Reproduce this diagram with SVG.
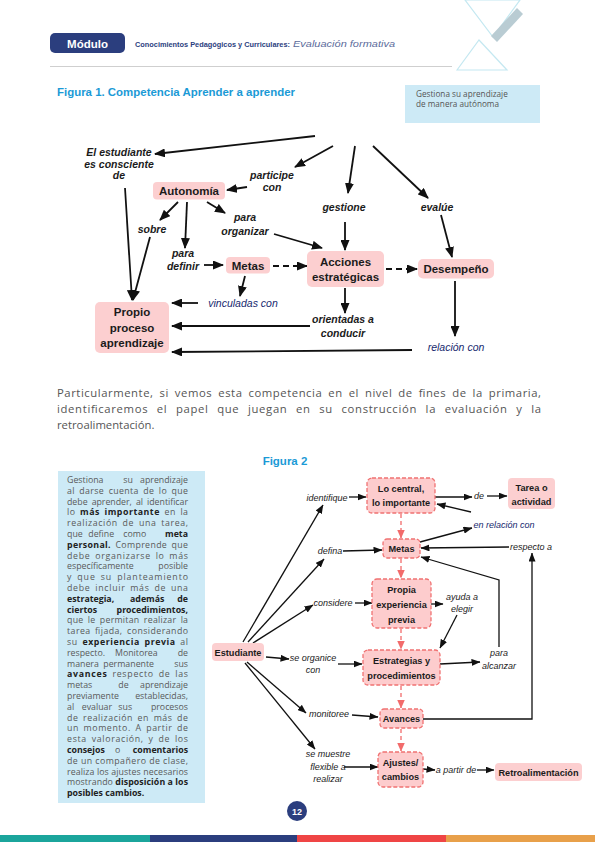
<svg xmlns="http://www.w3.org/2000/svg" width="595" height="842" viewBox="0 0 595 842">
<style>
.t1{font-family:"Liberation Sans",Arial,sans-serif;font-weight:bold;font-size:11.5px;fill:#1b1b1b;text-anchor:middle}
.l1{font-family:"Liberation Sans",Arial,sans-serif;font-weight:bold;font-style:italic;font-size:10.5px;fill:#1b1b1b;text-anchor:middle}
.l1b{font-family:"Liberation Sans",Arial,sans-serif;font-style:italic;font-size:10.5px;fill:#16286e;text-anchor:middle}
.t2{font-family:"Liberation Sans",Arial,sans-serif;font-weight:bold;font-size:9.2px;fill:#1b1b1b;text-anchor:middle}
.l2{font-family:"Liberation Sans",Arial,sans-serif;font-style:italic;font-size:9px;fill:#1b1b1b;text-anchor:middle}
.l2b{font-family:"Liberation Sans",Arial,sans-serif;font-style:italic;font-size:9px;fill:#16286e;text-anchor:middle}
.n1{fill:#fccfd0}
.n2{fill:#fdcccd;stroke:#f07272;stroke-width:1.3;stroke-dasharray:4 2}
.c1{fill:none;stroke:#111;stroke-width:1.8;marker-end:url(#ah1)}
.c1d{fill:none;stroke:#111;stroke-width:1.8;stroke-dasharray:6 4;marker-end:url(#ah1)}
.c2{fill:none;stroke:#111;stroke-width:1.3;marker-end:url(#ah2)}
.c2r{fill:none;stroke:#f26b6b;stroke-width:1.3;stroke-dasharray:4 3;marker-end:url(#ah2r)}
.bx{font-family:"Open Sans","Liberation Sans",sans-serif;font-size:8.8px;fill:#5a5a5a}
.j{word-spacing:1.8px}
.bx tspan.b,.bx.b{font-weight:bold;fill:#222}
.fig{font-family:"Liberation Sans",Arial,sans-serif;font-weight:bold;font-size:11.5px;fill:#1b9ad6}
.par{font-family:"Open Sans","Liberation Sans",sans-serif;font-size:11.3px;fill:#555}
</style>
<defs>
<marker id="ah1" markerUnits="userSpaceOnUse" markerWidth="11" markerHeight="9" refX="10" refY="4.5" orient="auto"><path d="M0,0 L11,4.5 L0,9 z" fill="#111"/></marker>
<marker id="ah2" markerUnits="userSpaceOnUse" markerWidth="9" markerHeight="7" refX="8.5" refY="3.5" orient="auto"><path d="M0,0 L9,3.5 L0,7 z" fill="#111"/></marker>
<marker id="ah2r" markerUnits="userSpaceOnUse" markerWidth="9" markerHeight="8" refX="8.5" refY="4" orient="auto"><path d="M0,0 L9,4 L0,8 z" fill="#f26b6b"/></marker>
</defs>
<rect width="595" height="842" fill="#fff"/>

<!-- header -->
<g id="header">
<polygon points="465,0 520,0 493,37" fill="none" stroke="#c4e8f1" stroke-width="1.2"/>
<polygon points="491,36 517,8 523,14 497,42" fill="#b9ccd3"/>
<polygon points="457,70 479,40 507,70" fill="none" stroke="#c4e8f1" stroke-width="1.2"/>
<rect x="50" y="33" width="75" height="20" rx="5" fill="#2b3e7e"/>
<text x="87.5" y="47.5" font-family="Liberation Sans,Arial,sans-serif" font-weight="bold" font-size="11.5" fill="#fff" text-anchor="middle">Módulo</text>
<text x="135" y="47" font-family="Liberation Sans,Arial,sans-serif" font-weight="bold" font-size="7.6" fill="#2b3e7e" textLength="155" lengthAdjust="spacingAndGlyphs">Conocimientos Pedagógicos y Curriculares:</text>
<text x="293" y="47" font-family="Liberation Sans,Arial,sans-serif" font-style="italic" font-size="8.5" fill="#5b6b9b" textLength="102" lengthAdjust="spacingAndGlyphs">Evaluación formativa</text>
<line x1="50" y1="66.5" x2="452" y2="66.5" stroke="#cfcfcf" stroke-width="1"/>
</g>

<!-- Figure 1 -->
<text class="fig" x="57" y="95.5" textLength="238" lengthAdjust="spacingAndGlyphs">Figura 1. Competencia Aprender a aprender</text>
<g id="note1">
<rect x="405" y="85" width="135" height="38" fill="#cdeaf6"/>
<text x="416" y="96.5" font-family="Open Sans,Liberation Sans,sans-serif" font-size="8.2" fill="#555">Gestiona su aprendizaje</text>
<text x="416" y="107" font-family="Open Sans,Liberation Sans,sans-serif" font-size="8.2" fill="#555">de manera autónoma</text>
</g>

<g id="fig1-connectors">
<line class="c1" x1="315" y1="136" x2="155" y2="154"/>
<line class="c1" x1="333" y1="146" x2="295" y2="167"/>
<line class="c1" x1="355" y1="146" x2="348" y2="193"/>
<line class="c1" x1="373" y1="146" x2="428" y2="198"/>
<line class="c1" x1="247" y1="187" x2="227" y2="190"/>
<line class="c1" x1="125" y1="188" x2="132" y2="300"/>
<line class="c1" x1="178" y1="202" x2="160" y2="220"/>
<line class="c1" x1="150" y1="237" x2="133" y2="300"/>
<line class="c1" x1="187" y1="202" x2="185" y2="248"/>
<line class="c1" x1="207" y1="202" x2="225" y2="213"/>
<line class="c1" x1="274" y1="234" x2="322" y2="248"/>
<line class="c1" x1="204" y1="265" x2="223" y2="265"/>
<line class="c1d" x1="273" y1="266" x2="307" y2="266"/>
<line class="c1" x1="245" y1="276" x2="240" y2="296"/>
<line class="c1" x1="198" y1="303" x2="172" y2="303"/>
<line class="c1" x1="310" y1="326" x2="172" y2="326"/>
<line class="c1" x1="412" y1="350" x2="172" y2="352"/>
<line class="c1" x1="345" y1="222" x2="345" y2="250"/>
<line class="c1" x1="441" y1="215" x2="452" y2="257"/>
<line class="c1d" x1="386" y1="269" x2="417" y2="269"/>
<line class="c1" x1="455" y1="281" x2="455" y2="336"/>
<line class="c1" x1="345" y1="288" x2="345" y2="313"/>
</g>

<g id="fig1-labels">
<text class="l1" x="119" y="156">El estudiante</text>
<text class="l1" x="119" y="168">es consciente</text>
<text class="l1" x="119" y="179">de</text>
<text class="l1" x="272" y="179">participe</text>
<text class="l1" x="272" y="191">con</text>
<text class="l1" x="152" y="233">sobre</text>
<text class="l1" x="183" y="257">para</text>
<text class="l1" x="183" y="270">definir</text>
<text class="l1" x="245" y="221">para</text>
<text class="l1" x="245" y="235">organizar</text>
<text class="l1" x="344" y="210.5">gestione</text>
<text class="l1" x="437" y="210.5">evalúe</text>
<text class="l1b" x="243" y="306.5">vinculadas con</text>
<text class="l1" x="343" y="322.5">orientadas a</text>
<text class="l1" x="343" y="336.5">conducir</text>
<text class="l1b" x="456" y="351">relación con</text>
</g>

<g id="autonomia"><rect class="n1" x="153" y="182" width="72" height="17.5" rx="4"/><text class="t1" x="189" y="195">Autonomía</text></g>
<g id="metas1"><rect class="n1" x="226" y="257" width="44" height="16.5" rx="4"/><text class="t1" x="248" y="269.5">Metas</text></g>
<g id="acciones"><rect class="n1" x="307" y="251" width="77" height="36" rx="5"/><text class="t1" x="345.5" y="266">Acciones</text><text class="t1" x="345.5" y="281">estratégicas</text></g>
<g id="desempeno"><rect class="n1" x="418" y="259" width="76" height="19.5" rx="5"/><text class="t1" x="456" y="273">Desempeño</text></g>
<g id="propio"><rect class="n1" x="95" y="302" width="74" height="51" rx="5"/><text class="t1" x="132" y="316">Propio</text><text class="t1" x="132" y="331.5">proceso</text><text class="t1" x="132" y="347">aprendizaje</text></g>

<!-- paragraph -->
<g id="paragraph">
<text class="par" x="57" y="397" word-spacing="2.5" textLength="484" lengthAdjust="spacing">Particularmente, si vemos esta competencia en el nivel de fines de la primaria,</text>
<text class="par" x="57" y="413" word-spacing="5" textLength="484" lengthAdjust="spacing">identificaremos el papel que juegan en su construcción la evaluación y la</text>
<text class="par" x="57" y="429">retroalimentación.</text>
</g>

<!-- Figure 2 -->
<text class="fig" x="285" y="464.5" text-anchor="middle">Figura 2</text>

<g id="textbox">
<rect x="58" y="471" width="147" height="332" fill="#cdeaf6"/>
<text class="bx" y="483"><tspan x="67">Gestiona</tspan><tspan x="123.3">su</tspan></text><text class="bx" x="188" y="483" text-anchor="end">aprendizaje</text>
<text class="bx j" x="67" y="493.8" textLength="121" lengthAdjust="spacing">al darse cuenta de lo que</text>
<text class="bx j" x="67" y="504.6" textLength="121" lengthAdjust="spacing">debe aprender, al identificar</text>
<text class="bx j" x="67" y="515.4" textLength="121" lengthAdjust="spacing">lo <tspan class="b">más importante</tspan> en la</text>
<text class="bx j" x="67" y="526.2" textLength="121" lengthAdjust="spacing">realización de una tarea,</text>
<text class="bx" y="537"><tspan x="67">que</tspan><tspan x="88.3">define</tspan><tspan x="123.3">como</tspan></text><text class="bx b" x="188" y="537" text-anchor="end">meta</text>
<text class="bx j" x="67" y="547.8" textLength="121" lengthAdjust="spacing"><tspan class="b">personal.</tspan> Comprende que</text>
<text class="bx j" x="67" y="558.6" textLength="121" lengthAdjust="spacing">debe organizarse lo más</text>
<text class="bx" x="67" y="569.4">específicamente</text><text class="bx" x="188" y="569.4" text-anchor="end">posible</text>
<text class="bx j" x="67" y="580.2" textLength="121" lengthAdjust="spacing">y que su planteamiento</text>
<text class="bx j" x="67" y="591" textLength="121" lengthAdjust="spacing">debe incluir más de una</text>
<text class="bx b" y="601.8"><tspan x="67">estrategia,</tspan><tspan x="130">además</tspan></text><text class="bx b" x="188" y="601.8" text-anchor="end">de</text>
<text class="bx b" x="67" y="612.6">ciertos</text><text class="bx b" x="188" y="612.6" text-anchor="end">procedimientos,</text>
<text class="bx j" x="67" y="623.4" textLength="121" lengthAdjust="spacing">que le permitan realizar la</text>
<text class="bx j" x="67" y="634.2" textLength="121" lengthAdjust="spacing">tarea fijada, considerando</text>
<text class="bx j" x="67" y="645" textLength="121" lengthAdjust="spacing">su <tspan class="b">experiencia previa</tspan> al</text>
<text class="bx" y="655.8"><tspan x="67">respecto.</tspan><tspan x="115">Monitorea</tspan></text><text class="bx" x="188" y="655.8" text-anchor="end">de</text>
<text class="bx" y="666.6"><tspan x="67">manera</tspan><tspan x="103.3">permanente</tspan></text><text class="bx" x="188" y="666.6" text-anchor="end">sus</text>
<text class="bx j" x="67" y="677.4" textLength="121" lengthAdjust="spacing"><tspan class="b">avances</tspan> respecto de las</text>
<text class="bx" y="688.2"><tspan x="67">metas</tspan><tspan x="118.3">de</tspan></text><text class="bx" x="188" y="688.2" text-anchor="end">aprendizaje</text>
<text class="bx" x="67" y="699">previamente</text><text class="bx" x="188" y="699" text-anchor="end">establecidas,</text>
<text class="bx" y="709.8"><tspan x="67">al</tspan><tspan x="81.7">evaluar</tspan><tspan x="118.3">sus</tspan></text><text class="bx" x="188" y="709.8" text-anchor="end">procesos</text>
<text class="bx j" x="67" y="720.6" textLength="121" lengthAdjust="spacing">de realización en más de</text>
<text class="bx j" x="67" y="731.4" textLength="121" lengthAdjust="spacing">un momento. A partir de</text>
<text class="bx j" x="67" y="742.2" textLength="121" lengthAdjust="spacing">esta valoración, y de los</text>
<text class="bx" y="753"><tspan x="67" class="b">consejos</tspan><tspan x="115">o</tspan></text><text class="bx b" x="188" y="753" text-anchor="end">comentarios</text>
<text class="bx" x="67" y="763.8" textLength="121" lengthAdjust="spacing">de un compañero de clase,</text>
<text class="bx" x="67" y="774.6" textLength="121" lengthAdjust="spacing">realiza los ajustes necesarios</text>
<text class="bx" x="67" y="785.4" textLength="121" lengthAdjust="spacing">mostrando <tspan class="b">disposición a los</tspan></text>
<text class="bx b" x="67" y="796.2">posibles cambios.</text>
</g>

<g id="fig2-connectors">
<line class="c2" x1="243" y1="642" x2="323" y2="505"/>
<line class="c2" x1="248" y1="642" x2="324" y2="559"/>
<line class="c2" x1="253" y1="643" x2="313" y2="605"/>
<line class="c2" x1="349" y1="497" x2="366" y2="497"/>
<line class="c2" x1="343" y1="551" x2="382" y2="550"/>
<line class="c2" x1="355" y1="603" x2="372" y2="603"/>
<line class="c2" x1="266" y1="657" x2="289" y2="659"/>
<line class="c2" x1="338" y1="664" x2="362" y2="664"/>
<line class="c2" x1="247" y1="662" x2="306" y2="713"/>
<line class="c2" x1="352" y1="715" x2="378" y2="717"/>
<line class="c2" x1="245" y1="663" x2="315" y2="749"/>
<line class="c2" x1="344" y1="767" x2="378" y2="767"/>
<line class="c2" x1="435" y1="497" x2="472" y2="497"/>
<line class="c2" x1="487" y1="496" x2="507" y2="496"/>
<line class="c2" x1="471" y1="512" x2="437" y2="504"/>
<line class="c2" x1="420" y1="542" x2="472" y2="528"/>
<line class="c2" x1="509" y1="547" x2="421" y2="548"/>
<polyline class="c2" points="423,719 532,719 532,553"/>
<polyline class="c2" points="499,647 499,580 421,557"/>
<line class="c2" x1="440" y1="664" x2="480" y2="662"/>
<line class="c2" x1="431" y1="604" x2="443" y2="604"/>
<line class="c2" x1="457" y1="615" x2="440" y2="648"/>
<line class="c2" x1="423" y1="769" x2="435" y2="770"/>
<line class="c2" x1="477" y1="770" x2="494" y2="770"/>
<line class="c2r" x1="401" y1="514" x2="401" y2="538"/>
<line class="c2r" x1="401" y1="559" x2="401" y2="578"/>
<line class="c2r" x1="401" y1="629" x2="401" y2="649"/>
<line class="c2r" x1="401" y1="686" x2="401" y2="708"/>
<line class="c2r" x1="401" y1="729" x2="401" y2="751"/>
</g>

<g id="fig2-labels">
<text class="l2" x="327" y="501">identifique</text>
<text class="l2" x="330" y="554">defina</text>
<text class="l2" x="333" y="606">considere</text>
<text class="l2" x="313" y="661">se organice</text>
<text class="l2" x="313" y="673">con</text>
<text class="l2" x="329" y="717">monitoree</text>
<text class="l2" x="328" y="757">se muestre</text>
<text class="l2" x="328" y="770">flexible a</text>
<text class="l2" x="328" y="782">realizar</text>
<text class="l2" x="479" y="499">de</text>
<text class="l2b" x="504" y="528">en relación con</text>
<text class="l2" x="531" y="550">respecto a</text>
<text class="l2" x="462" y="600">ayuda a</text>
<text class="l2" x="462" y="612">elegir</text>
<text class="l2" x="499" y="656">para</text>
<text class="l2" x="499" y="669">alcanzar</text>
<text class="l2" x="456" y="773">a partir de</text>
</g>

<g id="estudiante"><rect class="n1" x="212" y="643" width="52" height="18" rx="4"/><text class="t2" x="238" y="655.5">Estudiante</text></g>
<g id="locentral"><rect class="n2" x="367" y="478" width="68" height="35" rx="5"/><text class="t2" x="401" y="491.5">Lo central,</text><text class="t2" x="401" y="506">lo importante</text></g>
<g id="tarea"><rect class="n1" x="508" y="478" width="47" height="31" rx="4"/><text class="t2" x="531.5" y="490.5">Tarea o</text><text class="t2" x="531.5" y="505">actividad</text></g>
<g id="metas2"><rect class="n2" x="383" y="539" width="37" height="19" rx="4"/><text class="t2" x="401.5" y="551.5">Metas</text></g>
<g id="propia"><rect class="n2" x="372" y="579" width="59" height="49" rx="5"/><text class="t2" x="401.5" y="592.5">Propia</text><text class="t2" x="401.5" y="607.5">experiencia</text><text class="t2" x="401.5" y="622.5">previa</text></g>
<g id="estrategias"><rect class="n2" x="363" y="650" width="77" height="35" rx="5"/><text class="t2" x="401.5" y="664">Estrategias y</text><text class="t2" x="401.5" y="678.5">procedimientos</text></g>
<g id="avances"><rect class="n2" x="380" y="709" width="43" height="19" rx="4"/><text class="t2" x="401.5" y="721.5">Avances</text></g>
<g id="ajustes"><rect class="n2" x="378" y="752" width="45" height="35" rx="5"/><text class="t2" x="400.5" y="765.5">Ajustes/</text><text class="t2" x="400.5" y="780">cambios</text></g>
<g id="retro"><rect class="n1" x="495" y="763" width="87" height="18" rx="4"/><text class="t2" x="538.5" y="775.5">Retroalimentación</text></g>

<!-- footer -->
<g id="footer">
<circle cx="297" cy="811" r="10" fill="#2b3e7e"/>
<text x="297" y="814.5" font-family="Liberation Sans,Arial,sans-serif" font-weight="bold" font-size="9" fill="#fff" text-anchor="middle">12</text>
<rect x="0" y="835" width="150" height="7" fill="#1ba59c"/>
<rect x="150" y="835" width="147" height="7" fill="#2b3e7e"/>
<rect x="297" y="835" width="149" height="7" fill="#ef4545"/>
<rect x="446" y="835" width="149" height="7" fill="#e8a04a"/>
</g>
</svg>
